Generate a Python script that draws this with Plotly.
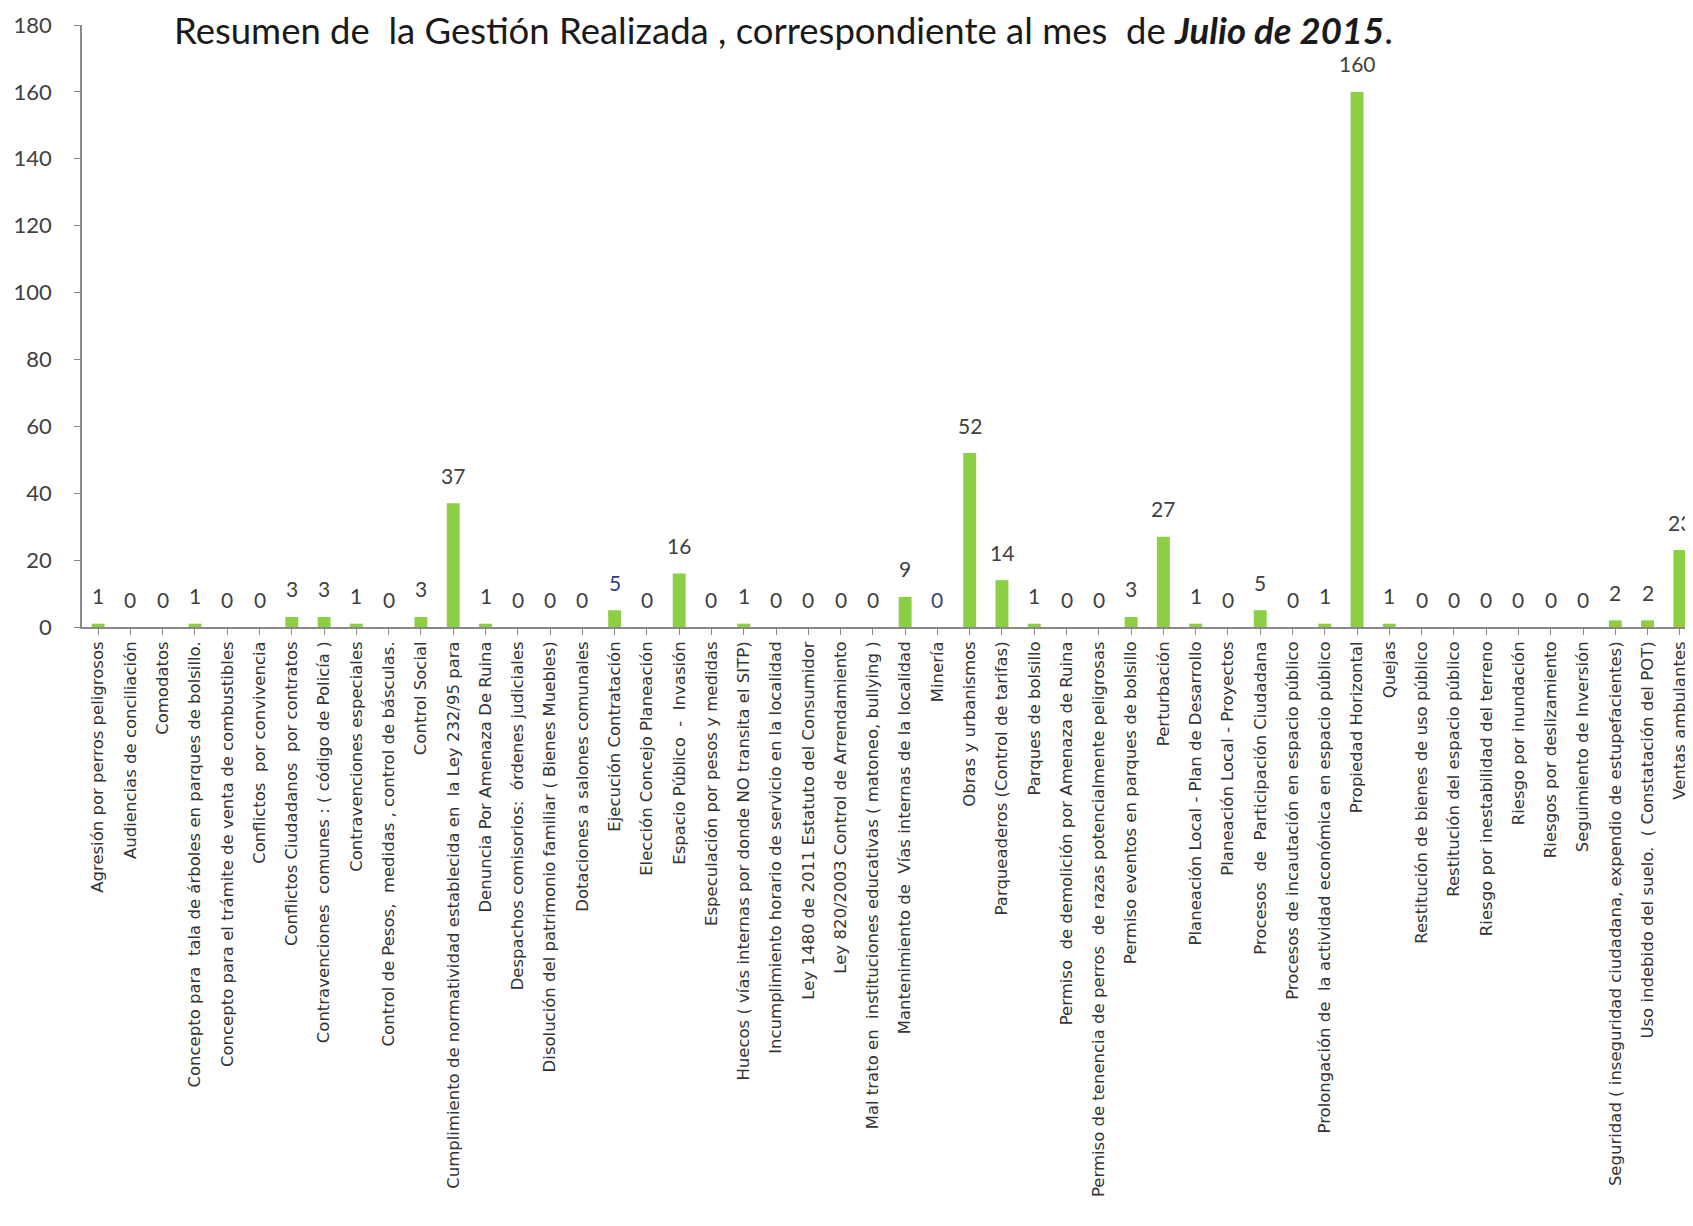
import plotly.graph_objects as go

categories = [
    "Agresión por perros peligrosos",
    "Audiencias de conciliación",
    "Comodatos",
    "Concepto para  tala de árboles en parques de bolsillo.",
    "Concepto para el trámite de venta de combustibles",
    "Conflictos  por convivencia",
    "Conflictos Ciudadanos  por contratos",
    "Contravenciones  comunes : ( código de Policía )",
    "Contravenciones especiales",
    "Control de Pesos,  medidas , control de básculas.",
    "Control Social",
    "Cumplimiento de normatividad establecida en  la Ley 232/95 para",
    "Denuncia Por Amenaza De Ruina",
    "Despachos comisorios:  órdenes judiciales",
    "Disolución del patrimonio familiar ( Bienes Muebles)",
    "Dotaciones a salones comunales",
    "Ejecución Contratación",
    "Elección Concejo Planeación",
    "Espacio Público  -  Invasión",
    "Especulación por pesos y medidas",
    "Huecos ( vías internas por donde NO transita el SITP)",
    "Incumplimiento horario de servicio en la localidad",
    "Ley 1480 de 2011 Estatuto del Consumidor",
    "Ley 820/2003 Control de Arrendamiento",
    "Mal trato en  instituciones educativas ( matoneo, bullying )",
    "Mantenimiento de  Vías internas de la localidad",
    "Minería",
    "Obras y urbanismos",
    "Parqueaderos (Control de tarifas)",
    "Parques de bolsillo",
    "Permiso  de demolición por Amenaza de Ruina",
    "Permiso de tenencia de perros  de razas potencialmente peligrosas",
    "Permiso eventos en parques de bolsillo",
    "Perturbación",
    "Planeación Local - Plan de Desarrollo",
    "Planeación Local - Proyectos",
    "Procesos  de  Participación Ciudadana",
    "Procesos de incautación en espacio público",
    "Prolongación de  la actividad económica en espacio público",
    "Propiedad Horizontal",
    "Quejas",
    "Restitución de bienes de uso público",
    "Restitución del espacio público",
    "Riesgo por inestabilidad del terreno",
    "Riesgo por inundación",
    "Riesgos por deslizamiento",
    "Seguimiento de Inversión",
    "Seguridad ( inseguridad ciudadana, expendio de estupefacientes)",
    "Uso indebido del suelo.  ( Constatación del POT)",
    "Ventas ambulantes",
]

values = [1, 0, 0, 1, 0, 0, 3, 3, 1, 0,
          3, 37, 1, 0, 0, 0, 5, 0, 16, 0,
          1, 0, 0, 0, 0, 9, 0, 52, 14, 1,
          0, 0, 3, 27, 1, 0, 5, 0, 1, 160,
          1, 0, 0, 0, 0, 0, 0, 2, 2, 23]

y_ticks = [0, 20, 40, 60, 80, 100, 120, 140, 160, 180]

title_plain = "Resumen de  la Gestión Realizada , correspondiente al mes  de "
title_bold = "Julio de 2015"

FONT = "Lato"
label_colors = ["#404040"] * len(values)
label_colors[16] = "#2E3D8C"
label_colors[26] = "#3A4670"

x_idx = list(range(len(categories)))

fig = go.Figure()
fig.add_trace(go.Bar(
    x=x_idx,
    y=values,
    width=0.4,
    marker=dict(color="#8ccf45", line=dict(width=0)),
    hoverinfo="skip",
    cliponaxis=False,
))

annotations = []
for i, v in enumerate(values):
    annotations.append(dict(
        x=i, y=v, xref="x", yref="y",
        text=str(v), showarrow=False,
        yanchor="middle", yshift=28,
        font=dict(family=FONT, size=21, color=label_colors[i]),
    ))

annotations.append(dict(
    xref="paper", yref="paper",
    x=0.056, y=0.992, xanchor="left", yanchor="middle",
    text=title_plain + "<b><i>" + title_bold + "</i></b>.",
    showarrow=False,
    font=dict(family=FONT, size=36.5, color="#1a1a1a"),
))

fig.update_layout(
    width=1688, height=1218,
    margin=dict(l=74, r=0, t=17, b=599, autoexpand=False),
    paper_bgcolor="white", plot_bgcolor="white",
    showlegend=False,
    annotations=annotations,
)

fig.update_xaxes(
    range=[-0.5, 49.5],
    tickmode="array",
    tickvals=x_idx,
    ticktext=categories,
    tickangle=-90,
    tickfont=dict(family="DejaVu Sans", size=16.5, color="#333333"),
    ticks="outside", tickson="boundaries", ticklen=6, tickcolor="#888888",
    showline=True, linecolor="#888888", linewidth=1.5,
    showgrid=False, zeroline=False, automargin=False,
)

fig.update_yaxes(
    range=[0, 180],
    tickmode="array",
    tickvals=y_ticks,
    ticktext=[str(t) for t in y_ticks],
    tickfont=dict(family=FONT, size=22, color="#404040"),
    ticks="outside", ticklen=6, tickcolor="#888888",
    ticklabelstandoff=18,
    showline=True, linecolor="#888888", linewidth=1.5,
    showgrid=False, zeroline=False, automargin=False,
)

fig.write_html("out.html")
